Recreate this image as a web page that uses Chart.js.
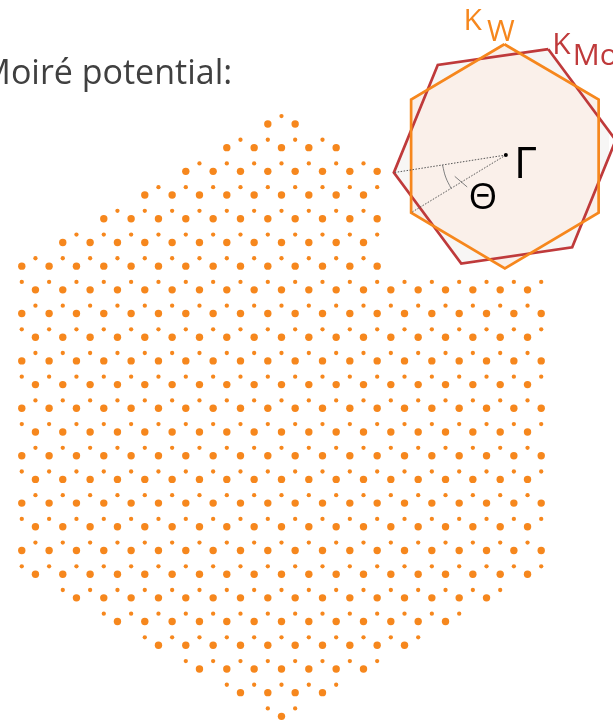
<!DOCTYPE html>
<html>
<head>
<meta charset="utf-8">
<title>Moiré potential</title>
<script src="https://cdn.jsdelivr.net/npm/chart.js@4.4.1/dist/chart.umd.min.js"></script>
<style>
    html, body { margin: 0; padding: 0; background: #fff; }
    #wrap { width: 613px; height: 724px; overflow: hidden; }
</style>
</head>
<body>
<div id="wrap"><canvas id="moire" width="613" height="724"></canvas></div>
<script>
// Moiré lattice: big sites and small sites, one entry per row.
// Columns are in half lattice spacings and step by 2 inside a row.
const bigRows = [0, 1, 2, 3, 4, 5, 6, 7, 8, 9, 10, 11, 12, 13, 14, 15, 16, 17, 18, 19, 20, 21, 22, 23, 24, 25];
const bigFrom = [-1, -4, -7, -10, -13, -16, -19, -18, -19, -18, -19, -18, -19, -18, -19, -18, -19, -18, -19, -18, -15, -12, -9, -6, -3, 0];
const bigTo   = [1, 4, 7, 6, 7, 6, 7, 18, 19, 18, 19, 18, 19, 18, 19, 18, 19, 18, 19, 18, 15, 12, 9, 6, 3, 0];

// small sites sit 2/3 of a row below the big row with the same number
const smallRows = [-1, 0, 1, 2, 3, 4, 5, 6, 7, 8, 9, 10, 11, 12, 13, 14, 15, 16, 17, 18, 19, 20, 21, 22, 23, 24];
const smallFrom = [0, -3, -6, -9, -12, -15, -18, -19, -18, -19, -18, -19, -18, -19, -18, -19, -18, -19, -18, -19, -16, -13, -10, -7, -4, -1];
const smallTo   = [0, 3, 6, 7, 6, 7, 6, 19, 18, 19, 18, 19, 18, 19, 18, 19, 18, 19, 18, 19, 16, 13, 10, 7, 4, 1];
const smallShift = 2 / 3;

// Brillouin zones of the two layers (inset)
const wHexX  = [507, 602.5, 602.5, 507.5, 412.5, 412.5, 507];
const wHexY  = [40.7, 96.7, 211, 267.3, 211, 96.7, 40.7];
const moHexX = [551.5, 619.8, 575.7, 463.3, 395, 439.5, 551.5];
const moHexY = [45.7, 137.7, 246, 262.5, 170.5, 61.7, 45.7];

// Γ point and the twist angle construction
const gammaPt  = [508.5, 152.7];
const moCorner = [395, 170.5];
const wCorner  = [412.5, 211];
const arcX = [444.3, 447.5, 453];
const arcY = [162.8, 175, 186.5];
const tickX = [456.7, 469.3];
const tickY = [174.3, 185];

const ORANGE = '#F6871D';
const RED = '#BF3A3B';

function expandRows(rows, from, to, shift) {
    const pts = [];
    rows.forEach((r, i) => {
        for (let c = from[i]; c <= to[i]; c += 2) pts.push({ x: c, y: r + shift });
    });
    return pts;
}

const zip = (xs, ys) => xs.map((x, i) => ({ x: x, y: ys[i] }));

const labels = [
    { text: 'Moiré potential:', x: -24, y: 81, font: '34px "Open Sans"', color: '#404040' },
    { text: 'K', x: 465.5, y: 26.7, font: '30px "Open Sans"', color: ORANGE },
    { text: 'W', x: 489.5, y: 37.3, font: '30px "Open Sans"', color: ORANGE },
    { text: 'K', x: 555.6, y: 50.7, font: '30px "Open Sans"', color: RED },
    { text: 'Mo', x: 576.3, y: 61.7, font: '30px "Open Sans"', color: RED },
    { text: 'Γ', x: 516.7, y: 176, font: '44px "Open Sans"', color: '#000' },
    { text: 'Θ', x: 470.7, y: 207, font: '37px "Open Sans"', color: '#000' }
];

const textLabels = {
    id: 'textLabels',
    afterDatasetsDraw(chart) {
        const { ctx, scales: { ix, iy } } = chart;
        labels.forEach(l => {
            ctx.save();
            ctx.font = l.font;
            ctx.fillStyle = l.color;
            ctx.textBaseline = 'alphabetic';
            ctx.fillText(l.text, ix.getPixelForValue(l.x), iy.getPixelForValue(l.y));
            ctx.restore();
        });
    }
};

const insetLine = (data, color, width, extra) => Object.assign({
    type: 'line',
    data: data,
    xAxisID: 'ix',
    yAxisID: 'iy',
    borderColor: color,
    borderWidth: width,
    pointRadius: 0,
    fill: false,
    tension: 0,
    clip: false
}, extra || {});

const ctx = document.getElementById('moire').getContext('2d');
new Chart(ctx, {
    type: 'scatter',
    data: {
        datasets: [
            {
                label: 'big',
                data: expandRows(bigRows, bigFrom, bigTo, 0),
                pointRadius: 3.7,
                pointBackgroundColor: ORANGE,
                pointBorderWidth: 0,
                clip: false,
                order: 1
            },
            {
                label: 'small',
                data: expandRows(smallRows, smallFrom, smallTo, smallShift),
                pointRadius: 2.15,
                pointBackgroundColor: ORANGE,
                pointBorderWidth: 0,
                clip: false,
                order: 1
            },
            insetLine(zip(moHexX, moHexY), RED, 2.7, { fill: 'shape', backgroundColor: '#F7F6F5', order: 9 }),
            insetLine(zip(wHexX, wHexY), ORANGE, 2.7, { fill: 'shape', backgroundColor: '#FAF0EA', order: 8 }),
            insetLine([{ x: gammaPt[0], y: gammaPt[1] }, { x: moCorner[0], y: moCorner[1] }], '#555', 1, { borderDash: [1.5, 1.5], order: 5 }),
            insetLine([{ x: gammaPt[0], y: gammaPt[1] }, { x: wCorner[0], y: wCorner[1] }], '#555', 1, { borderDash: [1.5, 1.5], order: 5 }),
            insetLine(zip(arcX, arcY), '#808080', 1, { tension: 0.4, order: 5 }),
            insetLine(zip(tickX, tickY), '#808080', 1, { order: 5 }),
            insetLine([{ x: gammaPt[0], y: gammaPt[1] }], '#000', 0, { pointRadius: 2, pointBackgroundColor: '#000', pointBorderWidth: 0, order: 2 })
        ]
    },
    options: {
        responsive: false,
        animation: false,
        devicePixelRatio: 1,
        layout: { padding: 0 },
        plugins: {
            legend: { display: false },
            tooltip: { enabled: false },
            filler: { drawTime: 'beforeDatasetsDraw' }
        },
        scales: {
            x: { type: 'linear', display: false, min: -20.30, max: 23.96 },
            y: { type: 'linear', display: false, reverse: true, min: -5.063, max: 25.154 },
            ix: { type: 'linear', axis: 'x', display: false, min: 0, max: 613 },
            iy: { type: 'linear', axis: 'y', display: false, reverse: true, min: 0, max: 724 }
        }
    },
    plugins: [textLabels]
});
</script>
</body>
</html>
